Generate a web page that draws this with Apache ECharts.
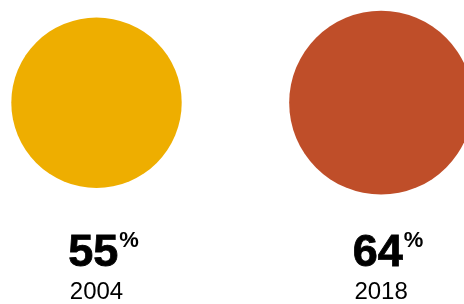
<!DOCTYPE html>
<html>
<head>
<meta charset="utf-8">
<script src="https://cdn.jsdelivr.net/npm/echarts@6/dist/echarts.min.js"></script>
<style>
  html, body { margin: 0; padding: 0; background: #fff; }
  #chart-container { width: 464px; height: 304px; }
</style>
</head>
<body>
<div id="chart-container"></div>
<script>
  const years = ['2004', '2018'];
  const shares = [55, 64];
  const colors = ['#EEAE00', '#BF4E29'];

  // circle area follows the share
  const sizeFor = (v) => 22.98 * Math.sqrt(v);

  const chart = echarts.init(document.getElementById('chart-container'));

  const option = {
    animation: false,
    grid: { left: 96.5, right: 82.9, top: 0, bottom: 98.6 },
    xAxis: { type: 'value', min: 0, max: 1, show: false },
    yAxis: { type: 'value', min: -1, max: 1, show: false },
    series: [
      {
        type: 'scatter',
        symbol: 'circle',
        data: shares.map((v, i) => ({
          value: [i, 0],
          share: v,
          year: years[i],
          symbolSize: sizeFor(v),
          itemStyle: { color: colors[i], opacity: 1 }
        })),
        emphasis: { disabled: true },
        label: {
          show: true,
          position: 'inside',
          verticalAlign: 'top',
          align: 'center',
          color: '#000',
          textBorderWidth: 0,
          offset: [7, 127],
          formatter: (p) => '{v|' + p.data.share + '}{p|%}\n{y|' + p.data.year + '}',
          rich: {
            v: {
              fontFamily: 'Liberation Sans',
              fontWeight: 'bold',
              fontSize: 45,
              lineHeight: 48,
              color: '#000',
              textBorderColor: '#000',
              textBorderWidth: 0.8
            },
            p: {
              fontFamily: 'Liberation Sans',
              fontWeight: 'bold',
              fontSize: 22,
              lineHeight: 48,
              verticalAlign: 'top',
              padding: [0, 0, 0, 1],
              color: '#000',
              textBorderWidth: 0
            },
            y: {
              fontFamily: 'Liberation Sans',
              fontSize: 24,
              lineHeight: 30,
              padding: [0, 14, 0, 0],
              color: '#000',
              textBorderWidth: 0
            }
          }
        }
      }
    ]
  };

  chart.setOption(option);
</script>
</body>
</html>
